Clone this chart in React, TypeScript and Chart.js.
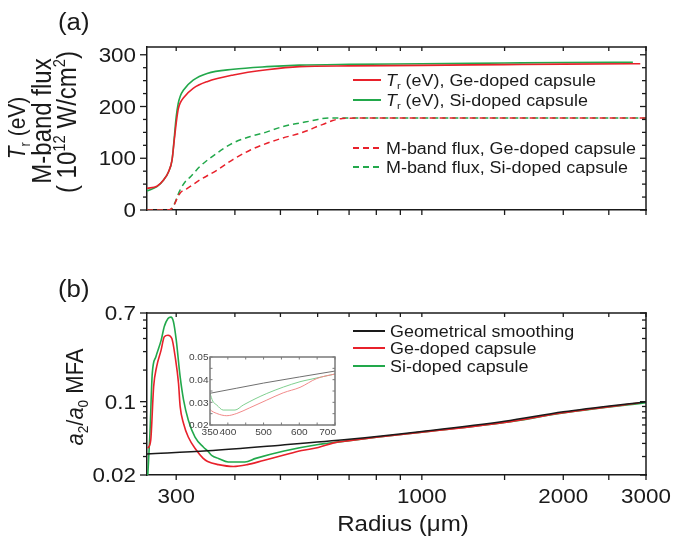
import React, { useEffect, useRef } from 'react';
import { Chart, registerables } from 'chart.js';
Chart.register(...registerables);

// ---------------- data ----------------
// Panel (a): radiation temperature Tr (eV)
const trRadius = [260, 273, 282, 289, 294, 297, 300, 303, 306, 311, 326, 349, 397, 468, 549, 700, 1000, 1500, 2000, 2813, 2917];
const trGe = [42, 46, 58, 74, 97, 133, 168, 195, 207, 217, 235, 248, 261, 271, 277, 278.5, 279.5, 281, 282, 282.5, 282.5];
const trSi = [37, 45, 58, 74, 97, 137, 180, 206, 220, 232, 251, 264, 272, 277, 280, 281.5, 282.5, 284, 285, 285.5, null];

// Panel (a): M-band flux (10^12 W/cm^2)
const fluxRadius = [260, 287, 293.7, 305.9, 315.8, 320.8, 336.8, 366.4, 395.4, 431.6, 468, 505, 549, 580, 604, 614, 646, 677, 700, 1000, 2000, 3000];
const fluxGe = [0, 0, 3, 33, 41, 45, 58, 77, 97, 116, 129, 139, 148, 156, 163, 165, 173, 177, 177.5, 178, 178, 178];
const fluxSi = [0, 0, 3, 39, 58, 63, 84, 110, 129, 142, 151, 161, 168, 172, 175.5, 177, 178, 178, 178, 178, 178, 178];

// Panel (b): a2/a0 MFA
const geoRadius = [260, 350, 500, 700, 1000, 1500, 2000, 3000];
const geoMfa = [0.0317, 0.034, 0.0385, 0.0438, 0.052, 0.065, 0.08, 0.1];

const geRadius = [261.1, 264.8, 268.6, 272.6, 278.6, 283, 288.2, 293.7, 298.5, 303.4, 305.9, 311, 318.3, 331, 342, 350, 369, 397, 425, 460, 509, 555, 602, 649, 700, 800, 1000, 1500, 2000, 2900];
const geMfa = [0.036, 0.043, 0.139, 0.216, 0.31, 0.416, 0.43, 0.4, 0.268, 0.15, 0.0897, 0.062, 0.046, 0.0346, 0.029, 0.0269, 0.0251, 0.0241, 0.0251, 0.0275, 0.031, 0.0342, 0.0366, 0.0405, 0.0425, 0.0458, 0.0512, 0.0635, 0.0785, 0.097];

const siRadius = [261, 263.8, 266.8, 271.6, 278.8, 283, 288.2, 292.3, 296, 300, 305.9, 311, 318.3, 329, 342.6, 350, 357.5, 369, 387, 420, 443, 509, 602, 630, 700, 800, 1000, 1500, 2000, 3000];
const siMfa = [0.02, 0.05, 0.186, 0.268, 0.388, 0.52, 0.62, 0.64, 0.578, 0.39, 0.172, 0.104, 0.067, 0.046, 0.037, 0.034, 0.0306, 0.0288, 0.0266, 0.0266, 0.0288, 0.0339, 0.0391, 0.0401, 0.0425, 0.0458, 0.0512, 0.0632, 0.078, 0.098];

// ticks and tick labels
const xMajor = [300, 1000, 2000, 3000];
const xLabels = ['300', '1000', '2000', '3000'];
const xMinor = [400, 500, 600, 700, 800, 900, 1500, 2500];
const aYMajor = [0, 100, 200, 300];
const aYLabels = ['0', '100', '200', '300'];
const aYMinor = [25, 50, 75, 125, 150, 175, 225, 250, 275];
const bYMajor = [0.02, 0.1, 0.7];
const bYLabels = ['0.02', '0.1', '0.7'];
const bYMinor = [0.03, 0.04, 0.05, 0.06, 0.07, 0.08, 0.09, 0.2, 0.3, 0.4, 0.5, 0.6];
const insetXTicks = [350, 400, 450, 500, 550, 600, 650, 700];
const insetXLabelVals = [350, 400, 500, 600, 700];
const insetXLabels = ['350', '400', '500', '600', '700'];
const insetYTicks = [0.02, 0.025, 0.03, 0.035, 0.04, 0.045, 0.05];
const insetYLabelVals = [0.02, 0.03, 0.04, 0.05];
const insetYLabels = ['0.02', '0.03', '0.04', '0.05'];

// ---------------- styles ----------------
const INK = '#1a1a1a';
const RED = '#e8212b';
const GREEN = '#22a84b';
const FONT = '"Liberation Sans", Arial, Helvetica, sans-serif';
const SX = 1.12;

type Seg = { t: string; it?: boolean; sub?: boolean; sup?: boolean };

function segFont(s: Seg, size: number) {
  const fs = s.sub || s.sup ? size * 0.62 : size;
  return `${s.it ? 'italic ' : ''}${fs}px ${FONT}`;
}

function drawRich(ctx: CanvasRenderingContext2D, segs: Seg[] | string, x: number, y: number, size: number,
  o: { align?: 'left' | 'center' | 'right'; rot?: boolean; color?: string; stretch?: number } = {}) {
  const sg: Seg[] = typeof segs === 'string' ? [{ t: segs }] : segs;
  const st = o.stretch ?? SX;
  ctx.save();
  ctx.translate(x, y);
  if (o.rot) { ctx.rotate(-Math.PI / 2); ctx.scale(1, st); } else ctx.scale(st, 1);
  ctx.fillStyle = o.color ?? INK;
  ctx.textBaseline = 'alphabetic';
  ctx.textAlign = 'left';
  let w = 0;
  for (const s of sg) { ctx.font = segFont(s, size); w += ctx.measureText(s.t).width; }
  let cx = o.align === 'center' ? -w / 2 : o.align === 'right' ? -w : 0;
  const base = size * 0.36;
  for (const s of sg) {
    ctx.font = segFont(s, size);
    const dy = s.sub ? size * 0.2 : s.sup ? -size * 0.38 : 0;
    ctx.fillText(s.t, cx, base + dy);
    cx += ctx.measureText(s.t).width;
  }
  ctx.restore();
}

function seg(ctx: CanvasRenderingContext2D, x1: number, y1: number, x2: number, y2: number) {
  ctx.beginPath(); ctx.moveTo(x1, y1); ctx.lineTo(x2, y2); ctx.stroke();
}

function pts(xs: number[], ys: (number | null)[]) {
  return xs.map((x, i) => ({ x, y: ys[i] }));
}

function axis(type: string, min: number, max: number, pos: string, size: number, color = INK, show = true) {
  return {
    type, min, max, position: pos,
    ticks: { display: false },
    grid: { display: false },
    border: { display: show, color, width: 1.5 },
    afterFit: (s: any) => { if (pos === 'left' || pos === 'right') s.width = size; else s.height = size; },
  };
}

function drawFrameTicks(ctx: CanvasRenderingContext2D, chart: any, o: {
  xMaj: number[]; xMin: number[]; yMaj: number[]; yMin: number[];
  color: string; lw: number; frame: 'tr' | 'all';
  outL: [number, number]; outB: [number, number]; inR: [number, number]; inT: [number, number];
}) {
  const a = chart.chartArea; const xs = chart.scales.x; const ys = chart.scales.y;
  ctx.save();
  ctx.strokeStyle = o.color; ctx.lineWidth = 1.5; ctx.lineCap = 'square';
  if (o.frame === 'all') { ctx.strokeRect(a.left, a.top, a.right - a.left, a.bottom - a.top); }
  else { seg(ctx, a.left, a.top, a.right, a.top); seg(ctx, a.right, a.top, a.right, a.bottom); }
  ctx.lineWidth = o.lw; ctx.lineCap = 'butt';
  const doY = (vals: number[], k: number) => {
    for (const v of vals) {
      const p = ys.getPixelForValue(v);
      if (o.outL[k] > 0) seg(ctx, a.left - o.outL[k], p, a.left, p);
      else seg(ctx, a.left, p, a.left - o.outL[k], p);
      seg(ctx, a.right - o.inR[k], p, a.right, p);
    }
  };
  const doX = (vals: number[], k: number) => {
    for (const v of vals) {
      const p = xs.getPixelForValue(v);
      seg(ctx, p, a.bottom, p, a.bottom + o.outB[k]);
      seg(ctx, p, a.top, p, a.top + o.inT[k]);
    }
  };
  doY(o.yMaj, 0); doY(o.yMin, 1); doX(o.xMaj, 0); doX(o.xMin, 1);
  ctx.restore();
}

function drawLegend(ctx: CanvasRenderingContext2D, items: { segs: Seg[]; color: string; dash: number[]; y: number }[], x1: number, x2: number, tx: number) {
  for (const it of items) {
    ctx.save();
    ctx.strokeStyle = it.color; ctx.lineWidth = 2; ctx.setLineDash(it.dash);
    seg(ctx, x1, it.y, x2, it.y);
    ctx.restore();
    drawRich(ctx, it.segs, tx, it.y, 16);
  }
}

const decorA = {
  id: 'decorA',
  afterDraw(chart: any) {
    const ctx: CanvasRenderingContext2D = chart.ctx; const a = chart.chartArea; const ys = chart.scales.y;
    drawFrameTicks(ctx, chart, { xMaj: xMajor, xMin: xMinor, yMaj: aYMajor, yMin: aYMinor, color: INK, lw: 1.3, frame: 'tr', outL: [7, 4], outB: [5, 5], inR: [6, 4], inT: [4, 4] });
    aYMajor.forEach((v, i) => drawRich(ctx, aYLabels[i], a.left - 11, ys.getPixelForValue(v), 20, { align: 'right' }));
    drawRich(ctx, '(a)', 58, 22, 23);
    drawRich(ctx, [{ t: 'T', it: true }, { t: 'r', sub: true }, { t: ' (eV)' }], 17, 128, 21, { align: 'center', rot: true });
    drawRich(ctx, 'M-band flux', 41, 121, 24, { align: 'center', rot: true });
    drawRich(ctx, [{ t: '( 10' }, { t: '12', sup: true }, { t: ' W/cm' }, { t: '2', sup: true }, { t: ')' }], 66, 122, 24, { align: 'center', rot: true });
    const trSeg = (s: string): Seg[] => [{ t: 'T', it: true }, { t: 'r', sub: true }, { t: ' (eV), ' + s }];
    drawLegend(ctx, [
      { segs: trSeg('Ge-doped capsule'), color: RED, dash: [], y: 80 },
      { segs: trSeg('Si-doped capsule'), color: GREEN, dash: [], y: 100 },
      { segs: [{ t: 'M-band flux, Ge-doped capsule' }], color: RED, dash: [6, 4], y: 148 },
      { segs: [{ t: 'M-band flux, Si-doped capsule' }], color: GREEN, dash: [6, 4], y: 167 },
    ], 353, 381, 386);
  },
};

const decorB = {
  id: 'decorB',
  afterDraw(chart: any) {
    const ctx: CanvasRenderingContext2D = chart.ctx; const a = chart.chartArea; const ys = chart.scales.y; const xs = chart.scales.x;
    drawFrameTicks(ctx, chart, { xMaj: xMajor, xMin: xMinor, yMaj: bYMajor, yMin: bYMinor, color: INK, lw: 1.3, frame: 'tr', outL: [7, 4], outB: [5, 5], inR: [6, 4], inT: [4, 4] });
    bYMajor.forEach((v, i) => drawRich(ctx, bYLabels[i], a.left - 11, ys.getPixelForValue(v), 20, { align: 'right' }));
    xMajor.forEach((v, i) => drawRich(ctx, xLabels[i], xs.getPixelForValue(v), a.bottom + 20.5, 20, { align: 'center' }));
    drawRich(ctx, '(b)', 58, 29, 23);
    drawRich(ctx, [{ t: 'a', it: true }, { t: '2', sub: true }, { t: '/' }, { t: 'a', it: true }, { t: '0', sub: true }, { t: ' MFA' }], 74, 137, 22, { align: 'center', rot: true });
    drawRich(ctx, 'Radius (\u03bcm)', 403, 263, 21.5, { align: 'center' });
    drawLegend(ctx, [
      { segs: [{ t: 'Geometrical smoothing' }], color: INK, dash: [], y: 71 },
      { segs: [{ t: 'Ge-doped capsule' }], color: RED, dash: [], y: 88 },
      { segs: [{ t: 'Si-doped capsule' }], color: GREEN, dash: [], y: 106 },
    ], 353, 385, 390);
  },
};

const decorC = {
  id: 'decorC',
  beforeDatasetsDraw(chart: any) {
    const ctx: CanvasRenderingContext2D = chart.ctx; const a = chart.chartArea;
    ctx.save(); ctx.fillStyle = '#ffffff'; ctx.fillRect(a.left, a.top, a.right - a.left, a.bottom - a.top); ctx.restore();
  },
  afterDraw(chart: any) {
    const ctx: CanvasRenderingContext2D = chart.ctx; const a = chart.chartArea; const ys = chart.scales.y; const xs = chart.scales.x;
    drawFrameTicks(ctx, chart, { xMaj: insetXTicks, xMin: [], yMaj: insetYTicks, yMin: [], color: '#7a7a7a', lw: 1, frame: 'all', outL: [-2.5, -2.5], outB: [-2.5, -2.5], inR: [2.5, 2.5], inT: [2.5, 2.5] });
    insetYLabelVals.forEach((v, i) => drawRich(ctx, insetYLabels[i], a.left - 1.5, ys.getPixelForValue(v), 9, { align: 'right', color: '#444' }));
    insetXLabelVals.forEach((v, i) => {
      const last = i === insetXLabelVals.length - 1;
      drawRich(ctx, insetXLabels[i], last ? a.right + 1 : xs.getPixelForValue(v), a.bottom + 6.5, 9, { align: last ? 'right' : 'center', color: '#444' });
    });
  },
};

const baseOpts = (pad: any, scales: any) => ({
  responsive: false,
  animation: false,
  devicePixelRatio: 1,
  events: [],
  layout: { padding: pad },
  elements: { point: { radius: 0 }, line: { cubicInterpolationMode: 'monotone', fill: false } },
  plugins: { legend: { display: false }, tooltip: { enabled: false }, title: { display: false } },
  scales,
});

function cfgA(): any {
  return {
    type: 'line',
    data: {
      datasets: [
        { label: 'Tr (eV), Ge-doped capsule', data: pts(trRadius, trGe), borderColor: RED, borderWidth: 1.6 },
        { label: 'Tr (eV), Si-doped capsule', data: pts(trRadius, trSi), borderColor: GREEN, borderWidth: 1.6 },
        { label: 'M-band flux, Ge-doped capsule', data: pts(fluxRadius, fluxGe), borderColor: RED, borderWidth: 1.5, borderDash: [6, 4] },
        { label: 'M-band flux, Si-doped capsule', data: pts(fluxRadius, fluxSi), borderColor: GREEN, borderWidth: 1.5, borderDash: [6, 4] },
      ],
    },
    options: baseOpts({ left: 0, right: 30, top: 47, bottom: 0 }, {
      x: axis('logarithmic', 260, 3000, 'bottom', 50),
      y: axis('linear', 0, 315, 'left', 147),
    }),
    plugins: [decorA],
  };
}

function cfgB(): any {
  return {
    type: 'line',
    data: {
      datasets: [
        { label: 'Geometrical smoothing', data: pts(geoRadius, geoMfa), borderColor: INK, borderWidth: 1.5 },
        { label: 'Ge-doped capsule', data: pts(geRadius, geMfa), borderColor: RED, borderWidth: 1.6 },
        { label: 'Si-doped capsule', data: pts(siRadius, siMfa), borderColor: GREEN, borderWidth: 1.6 },
      ],
    },
    options: baseOpts({ left: 0, right: 30, top: 53, bottom: 0 }, {
      x: axis('logarithmic', 260, 3000, 'bottom', 63),
      y: axis('logarithmic', 0.02, 0.7, 'left', 147),
    }),
    plugins: [decorB],
  };
}

function cfgC(): any {
  return {
    type: 'line',
    data: {
      datasets: [
        { label: 'Geometrical smoothing', data: pts(geoRadius, geoMfa), borderColor: '#707070', borderWidth: 1 },
        { label: 'Ge-doped capsule', data: pts(geRadius, geMfa), borderColor: '#f28b8b', borderWidth: 1 },
        { label: 'Si-doped capsule', data: pts(siRadius, siMfa), borderColor: '#80d090', borderWidth: 1 },
      ],
    },
    options: baseOpts({ left: 0, right: 15, top: 9, bottom: 0 }, {
      x: axis('linear', 350, 700, 'bottom', 18, '#7a7a7a', false),
      y: axis('linear', 0.02, 0.05, 'left', 30, '#7a7a7a', false),
    }),
    plugins: [decorC],
  };
}

export default function App() {
  const aRef = useRef<HTMLCanvasElement>(null);
  const bRef = useRef<HTMLCanvasElement>(null);
  const cRef = useRef<HTMLCanvasElement>(null);
  useEffect(() => {
    const charts = [
      new Chart(aRef.current!, cfgA()),
      new Chart(bRef.current!, cfgB()),
      new Chart(cRef.current!, cfgC()),
    ];
    return () => charts.forEach((c) => c.destroy());
  }, []);
  return (
    <div style={{ position: 'absolute', left: 0, top: 0, width: 676, height: 538, background: '#ffffff', overflow: 'hidden' }}>
      <canvas ref={aRef} width={676} height={260} style={{ position: 'absolute', left: 0, top: 0, width: 676, height: 260 }} />
      <canvas ref={bRef} width={676} height={278} style={{ position: 'absolute', left: 0, top: 260, width: 676, height: 278 }} />
      <canvas ref={cRef} width={170} height={95} style={{ position: 'absolute', left: 180, top: 348, width: 170, height: 95 }} />
    </div>
  );
}
